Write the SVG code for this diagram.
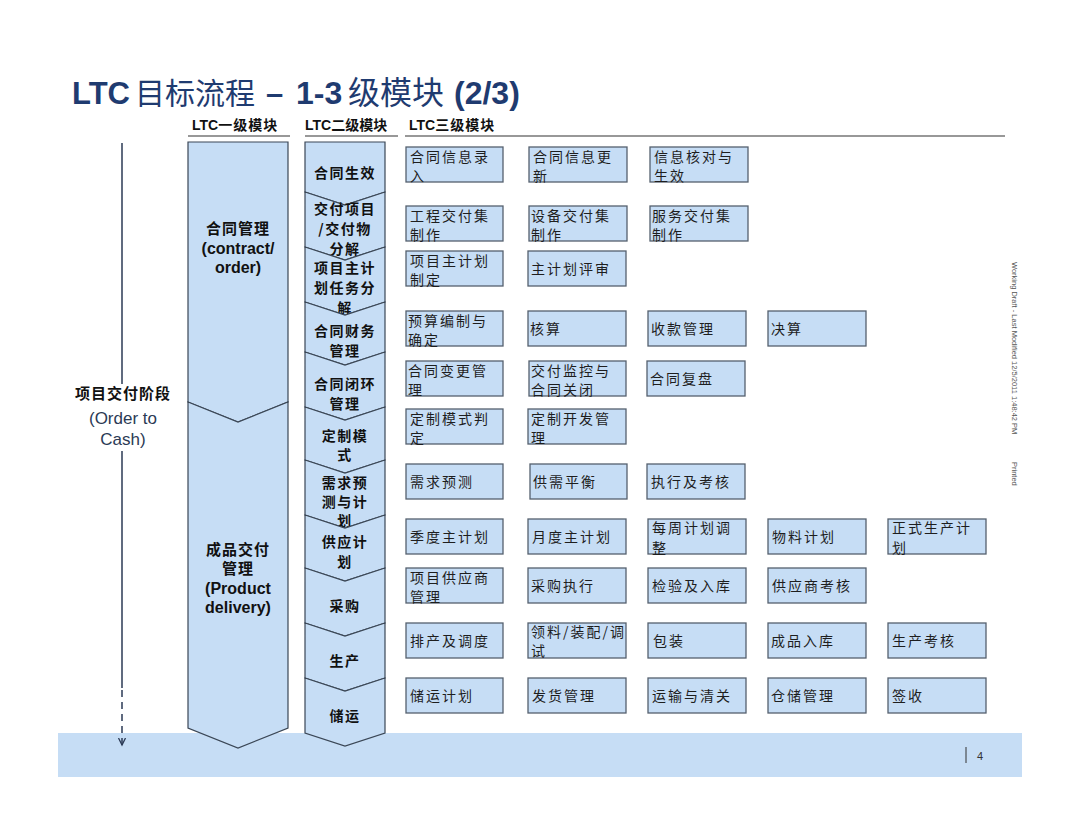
<svg xmlns="http://www.w3.org/2000/svg" width="1080" height="832" viewBox="0 0 1080 832">
<defs>
<style>
.bg{fill:#ffffff}
.band{fill:#c6ddf5}
.chev{fill:#c6ddf5;stroke:#3b4756;stroke-width:1.2;stroke-linejoin:miter}
.box{fill:#c6ddf5;stroke:#55606e;stroke-width:1.3}
.t3{font-family:"Noto Sans CJK SC","Liberation Sans",sans-serif;font-size:14px;letter-spacing:2px;fill:#1e1e1e}
.t2{font-family:"Noto Sans CJK SC","Liberation Sans",sans-serif;font-size:14px;font-weight:bold;letter-spacing:1.5px;fill:#111;text-anchor:middle}
.t1{font-family:"Liberation Sans","Noto Sans CJK SC",sans-serif;font-size:16px;font-weight:bold;fill:#111;text-anchor:middle}
.t1c{font-family:"Noto Sans CJK SC",sans-serif;font-size:15px;font-weight:bold;letter-spacing:1px;fill:#111;text-anchor:middle}
.hdr{font-family:"Liberation Sans","Noto Sans CJK SC",sans-serif;font-size:14px;font-weight:bold;fill:#111}
.hline{stroke:#333;stroke-width:1.2}
.ttl{font-family:"Liberation Sans","Noto Sans CJK SC",sans-serif;font-weight:bold;fill:#1f3b70}
.ttlc{font-family:"Noto Sans CJK SC",sans-serif;font-weight:normal;fill:#1f3b70}
.side{font-family:"Liberation Sans",sans-serif;font-size:17px;fill:#2b3a55;text-anchor:middle}
.vert{font-family:"Liberation Sans",sans-serif;font-size:7.5px;fill:#555}
</style>
<marker id="ah" markerWidth="10" markerHeight="10" refX="7" refY="4" orient="auto" markerUnits="userSpaceOnUse">
<path d="M0,0.5 L7,4 L0,7.5" fill="none" stroke="#2b3a55" stroke-width="1.3"/>
</marker>
</defs>
<rect class="bg" x="0" y="0" width="1080" height="832"/>

<g id="title">
<text x="72" y="104" font-size="31" class="ttl">LTC</text>
<text x="135" y="104" font-size="30" class="ttlc">目标流程</text>
<text x="266" y="104" font-size="31" class="ttl">–</text>
<text x="296" y="104" font-size="32" class="ttl">1-3</text>
<text x="348" y="104" font-size="32" class="ttlc">级模块</text>
<text x="454" y="104" font-size="32" class="ttl">(2/3)</text>
</g>

<g id="headers">
<text x="192" y="130" class="hdr">LTC<tspan font-family="Noto Sans CJK SC" letter-spacing="1">一级模块</tspan></text>
<text x="305" y="130" class="hdr">LTC<tspan font-family="Noto Sans CJK SC" letter-spacing="0">二级模块</tspan></text>
<text x="409" y="130" class="hdr">LTC<tspan font-family="Noto Sans CJK SC" letter-spacing="1">三级模块</tspan></text>
<line class="hline" x1="188" y1="136" x2="290" y2="136"/>
<line class="hline" x1="305" y1="136" x2="398" y2="136"/>
<line class="hline" x1="405" y1="136" x2="1005" y2="136"/>
</g>

<rect id="footer" class="band" x="58" y="733" width="964" height="44"/>
<g id="pagenum">
<line x1="966" y1="747" x2="966" y2="763" stroke="#333" stroke-width="1"/>
<text x="977" y="760" font-family="Liberation Sans,sans-serif" font-size="11" fill="#333">4</text>
</g>

<g id="connectors">
<line x1="122" y1="143" x2="122" y2="384" stroke="#2b3a55" stroke-width="1.5"/>
<line x1="122" y1="451" x2="122" y2="688" stroke="#2b3a55" stroke-width="1.5"/>
<line x1="122" y1="690" x2="122" y2="745" stroke="#2b3a55" stroke-width="1.5" stroke-dasharray="7,5" marker-end="url(#ah)"/>
</g>

<g id="phase">
<text x="123" y="399" class="t1c">项目交付阶段</text>
<text x="123" y="424" class="side">(Order to</text>
<text x="123" y="445" class="side">Cash)</text>
</g>

<g id="l1-contract">
<path class="chev" d="M188,142 L288,142 L288,402 L238,422 L188,402 Z"/>
<text x="238" y="234" class="t1c">合同管理</text>
<text x="238" y="254" class="t1">(contract/</text>
<text x="238" y="273" class="t1">order)</text>
</g>
<g id="l1-delivery">
<path class="chev" d="M188,402 L238,422 L288,402 L288,728 L238,748 L188,728 Z"/>
<text x="238" y="555" class="t1c">成品交付</text>
<text x="238" y="574" class="t1c">管理</text>
<text x="238" y="594" class="t1">(Product</text>
<text x="238" y="613" class="t1">delivery)</text>
</g>

<g id="l2-1"><path class="chev" d="M305,142 L385,142 L385,192 L345,205 L305,192 Z"/><text x="345" y="178" class="t2">合同生效</text></g>
<g id="l2-2"><path class="chev" d="M305,192 L345,205 L385,192 L385,247 L345,260 L305,247 Z"/><text x="345" y="214" class="t2">交付项目</text><text x="345" y="234" class="t2">/交付物</text><text x="345" y="254" class="t2">分解</text></g>
<g id="l2-3"><path class="chev" d="M305,247 L345,260 L385,247 L385,302 L345,315 L305,302 Z"/><text x="345" y="273" class="t2">项目主计</text><text x="345" y="293" class="t2">划任务分</text><text x="345" y="313" class="t2">解</text></g>
<g id="l2-4"><path class="chev" d="M305,302 L345,315 L385,302 L385,352 L345,365 L305,352 Z"/><text x="345" y="336" class="t2">合同财务</text><text x="345" y="356" class="t2">管理</text></g>
<g id="l2-5"><path class="chev" d="M305,352 L345,365 L385,352 L385,407 L345,420 L305,407 Z"/><text x="345" y="389" class="t2">合同闭环</text><text x="345" y="409" class="t2">管理</text></g>
<g id="l2-6"><path class="chev" d="M305,407 L345,420 L385,407 L385,460 L345,473 L305,460 Z"/><text x="345" y="441" class="t2">定制模</text><text x="345" y="460" class="t2">式</text></g>
<g id="l2-7"><path class="chev" d="M305,460 L345,473 L385,460 L385,515 L345,528 L305,515 Z"/><text x="345" y="488" class="t2">需求预</text><text x="345" y="507" class="t2">测与计</text><text x="345" y="526" class="t2">划</text></g>
<g id="l2-8"><path class="chev" d="M305,515 L345,528 L385,515 L385,568 L345,581 L305,568 Z"/><text x="345" y="547" class="t2">供应计</text><text x="345" y="567" class="t2">划</text></g>
<g id="l2-9"><path class="chev" d="M305,568 L345,581 L385,568 L385,623 L345,636 L305,623 Z"/><text x="345" y="611" class="t2">采购</text></g>
<g id="l2-10"><path class="chev" d="M305,623 L345,636 L385,623 L385,678 L345,691 L305,678 Z"/><text x="345" y="666" class="t2">生产</text></g>
<g id="l2-11"><path class="chev" d="M305,678 L345,691 L385,678 L385,733 L345,746 L305,733 Z"/><text x="345" y="721" class="t2">储运</text></g>

<g id="r1c1"><rect class="box" x="406" y="147" width="97" height="35"/><text x="410" y="162" class="t3">合同信息录<tspan x="410" y="181">入</tspan></text></g>
<g id="r1c2"><rect class="box" x="529" y="147" width="98" height="35"/><text x="533" y="162" class="t3">合同信息更<tspan x="533" y="181">新</tspan></text></g>
<g id="r1c3"><rect class="box" x="650" y="147" width="98" height="35"/><text x="654" y="162" class="t3">信息核对与<tspan x="654" y="181">生效</tspan></text></g>

<g id="r2c1"><rect class="box" x="406" y="206" width="97" height="35"/><text x="410" y="221" class="t3">工程交付集<tspan x="410" y="240">制作</tspan></text></g>
<g id="r2c2"><rect class="box" x="529" y="206" width="98" height="35"/><text x="531" y="221" class="t3">设备交付集<tspan x="531" y="240">制作</tspan></text></g>
<g id="r2c3"><rect class="box" x="650" y="206" width="98" height="35"/><text x="652" y="221" class="t3">服务交付集<tspan x="652" y="240">制作</tspan></text></g>

<g id="r3c1"><rect class="box" x="406" y="251" width="97" height="35"/><text x="410" y="266" class="t3">项目主计划<tspan x="410" y="285">制定</tspan></text></g>
<g id="r3c2"><rect class="box" x="528" y="251" width="98" height="35"/><text x="531" y="274" class="t3">主计划评审</text></g>

<g id="r4c1"><rect class="box" x="406" y="311" width="97" height="35"/><text x="408" y="326" class="t3">预算编制与<tspan x="408" y="345">确定</tspan></text></g>
<g id="r4c2"><rect class="box" x="528" y="311" width="98" height="35"/><text x="530" y="334" class="t3">核算</text></g>
<g id="r4c3"><rect class="box" x="648" y="311" width="98" height="35"/><text x="651" y="334" class="t3">收款管理</text></g>
<g id="r4c4"><rect class="box" x="768" y="311" width="98" height="35"/><text x="771" y="334" class="t3">决算</text></g>

<g id="r5c1"><rect class="box" x="406" y="361" width="97" height="35"/><text x="408" y="376" class="t3">合同变更管<tspan x="408" y="395">理</tspan></text></g>
<g id="r5c2"><rect class="box" x="529" y="361" width="97" height="35"/><text x="531" y="376" class="t3">交付监控与<tspan x="531" y="395">合同关闭</tspan></text></g>
<g id="r5c3"><rect class="box" x="647" y="361" width="98" height="35"/><text x="650" y="384" class="t3">合同复盘</text></g>

<g id="r6c1"><rect class="box" x="406" y="409" width="97" height="35"/><text x="410" y="424" class="t3">定制模式判<tspan x="410" y="443">定</tspan></text></g>
<g id="r6c2"><rect class="box" x="528" y="409" width="98" height="35"/><text x="531" y="424" class="t3">定制开发管<tspan x="531" y="443">理</tspan></text></g>

<g id="r7c1"><rect class="box" x="406" y="464" width="97" height="35"/><text x="410" y="487" class="t3">需求预测</text></g>
<g id="r7c2"><rect class="box" x="530" y="464" width="97" height="35"/><text x="533" y="487" class="t3">供需平衡</text></g>
<g id="r7c3"><rect class="box" x="647" y="464" width="98" height="35"/><text x="651" y="487" class="t3">执行及考核</text></g>

<g id="r8c1"><rect class="box" x="406" y="519" width="97" height="35"/><text x="410" y="542" class="t3">季度主计划</text></g>
<g id="r8c2"><rect class="box" x="528" y="519" width="98" height="35"/><text x="532" y="542" class="t3">月度主计划</text></g>
<g id="r8c3"><rect class="box" x="648" y="519" width="98" height="35"/><text x="652" y="533" class="t3">每周计划调<tspan x="652" y="553">整</tspan></text></g>
<g id="r8c4"><rect class="box" x="768" y="519" width="98" height="35"/><text x="772" y="542" class="t3">物料计划</text></g>
<g id="r8c5"><rect class="box" x="888" y="519" width="98" height="35"/><text x="892" y="533" class="t3">正式生产计<tspan x="892" y="553">划</tspan></text></g>

<g id="r9c1"><rect class="box" x="406" y="568" width="97" height="35"/><text x="410" y="583" class="t3">项目供应商<tspan x="410" y="602">管理</tspan></text></g>
<g id="r9c2"><rect class="box" x="528" y="568" width="98" height="35"/><text x="531" y="591" class="t3">采购执行</text></g>
<g id="r9c3"><rect class="box" x="648" y="568" width="98" height="35"/><text x="652" y="591" class="t3">检验及入库</text></g>
<g id="r9c4"><rect class="box" x="768" y="568" width="98" height="35"/><text x="772" y="591" class="t3">供应商考核</text></g>

<g id="r10c1"><rect class="box" x="406" y="623" width="97" height="35"/><text x="410" y="646" class="t3">排产及调度</text></g>
<g id="r10c2"><rect class="box" x="528" y="623" width="98" height="35"/><text x="531" y="637" class="t3">领料/装配/调<tspan x="531" y="656">试</tspan></text></g>
<g id="r10c3"><rect class="box" x="648" y="623" width="98" height="35"/><text x="653" y="646" class="t3">包装</text></g>
<g id="r10c4"><rect class="box" x="768" y="623" width="98" height="35"/><text x="771" y="646" class="t3">成品入库</text></g>
<g id="r10c5"><rect class="box" x="888" y="623" width="98" height="35"/><text x="892" y="646" class="t3">生产考核</text></g>

<g id="r11c1"><rect class="box" x="406" y="678" width="97" height="35"/><text x="410" y="701" class="t3">储运计划</text></g>
<g id="r11c2"><rect class="box" x="528" y="678" width="98" height="35"/><text x="532" y="701" class="t3">发货管理</text></g>
<g id="r11c3"><rect class="box" x="648" y="678" width="98" height="35"/><text x="652" y="701" class="t3">运输与清关</text></g>
<g id="r11c4"><rect class="box" x="768" y="678" width="98" height="35"/><text x="771" y="701" class="t3">仓储管理</text></g>
<g id="r11c5"><rect class="box" x="888" y="678" width="98" height="35"/><text x="892" y="701" class="t3">签收</text></g>

<g id="draftnote" transform="translate(1012,262) rotate(90)">
<text x="0" y="0" class="vert">Working Draft - Last Modified 12/5/2011 1:48:42 PM</text>
<text x="200" y="0" class="vert">Printed</text>
</g>
</svg>
